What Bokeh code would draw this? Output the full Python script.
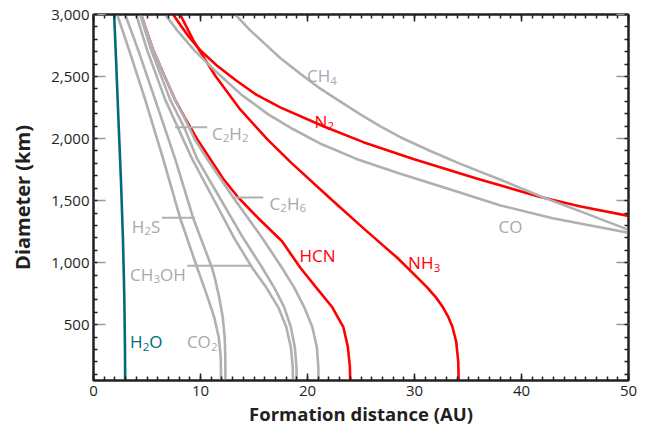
from bokeh.plotting import figure
from bokeh.models import Range1d, LinearAxis, FixedTicker, NumeralTickFormatter, Label, CustomJSTickFormatter
from bokeh.embed import file_html
from bokeh.resources import INLINE

# ---- data (formation distance in AU, diameter in km) ----
h2o_x = [2.96, 2.94, 2.88, 2.75, 2.56, 2.33, 2.11, 1.93]
h2o_y = [50, 321, 720, 1198, 1676, 2155, 2633, 3000]

co2_x = [11.92, 11.91, 11.89, 11.70, 11.28, 10.67, 10.02, 9.69, 8.10, 6.51, 4.83, 3.33, 2.21]
co2_y = [50, 146, 241, 401, 560, 720, 879, 959, 1358, 1836, 2314, 2713, 3000]

h2s_x = [12.33, 12.32, 12.26, 12.08, 11.75, 11.33, 11.07, 9.32, 7.63, 5.76, 4.18, 2.96]
h2s_y = [50, 241, 401, 560, 720, 879, 959, 1358, 1836, 2314, 2713, 3000]

ch3oh_x = [18.65, 18.62, 18.44, 18.02, 17.27, 16.15, 14.83, 13.15, 11.19, 9.22, 6.70, 5.01, 3.99]
ch3oh_y = [50, 162, 321, 481, 640, 799, 959, 1198, 1517, 1836, 2314, 2713, 3000]

c2h2_x = [18.99, 18.97, 18.81, 18.44, 17.83, 16.89, 15.77, 13.99, 11.84, 9.69, 8.47, 7.16, 5.39, 4.36]
c2h2_y = [50, 162, 321, 481, 640, 799, 959, 1198, 1517, 1836, 2091, 2314, 2713, 3000]

c2h6_x = [21.03, 21.01, 20.87, 20.45, 19.70, 18.76, 17.61, 15.77, 13.06, 10.62, 9.46, 8.48, 7.62, 6.79, 5.58, 4.45]
c2h6_y = [50, 162, 321, 481, 640, 799, 959, 1198, 1525, 1836, 1995, 2171, 2314, 2474, 2713, 3000]

hcn_x = [23.99, 23.96, 23.77, 23.35, 22.32, 20.82, 19.33, 17.60, 15.40, 13.53, 12.12, 10.91, 9.69, 8.52, 7.62, 6.79, 5.58, 4.45]
hcn_y = [50, 162, 321, 481, 640, 799, 959, 1174, 1358, 1525, 1676, 1836, 1995, 2171, 2314, 2474, 2713, 3000]

nh3_x = [34.13, 34.09, 33.90, 33.55, 33.17, 32.66, 32.00, 31.20, 30.27, 28.39, 25.21, 22.13, 18.39, 16.23, 13.71, 11.38, 9.88, 9.32, 8.10]
nh3_y = [50, 201, 361, 481, 560, 640, 720, 799, 879, 1039, 1278, 1517, 1812, 1995, 2235, 2506, 2713, 2793, 3000]

n2_x = [7.45, 8.15, 8.94, 9.97, 11.47, 13.24, 15.21, 17.45, 21.48, 25.22, 29.89, 35.88, 41.59, 45.52, 50.0]
n2_y = [3000, 2912, 2817, 2713, 2593, 2474, 2354, 2251, 2099, 1971, 1836, 1676, 1533, 1453, 1377]

co_x = [6.70, 7.82, 9.41, 11.47, 13.81, 16.33, 18.67, 21.29, 24.57, 28.68, 33.36, 38.04, 42.91, 50.0]
co_y = [3000, 2872, 2713, 2538, 2354, 2195, 2075, 1956, 1836, 1716, 1589, 1461, 1358, 1241]

ch4_x = [13.25, 14.65, 16.05, 17.45, 19.33, 21.20, 23.07, 24.94, 26.81, 28.68, 31.48, 34.29, 38.04, 42.06, 45.52, 50.0]
ch4_y = [3000, 2872, 2761, 2649, 2522, 2402, 2298, 2195, 2099, 2011, 1900, 1796, 1668, 1525, 1413, 1264]

# leader lines: (x start, x end, y)
leaders = [(7.63, 10.63, 2091), (12.94, 15.87, 1525), (6.39, 9.50, 1362), (8.76, 14.83, 975)]

X_TICKS = [0, 10, 20, 30, 40, 50]
Y_TICKS = [500, 1000, 1500, 2000, 2500, 3000]

GRAY = "#b0b0b0"
LGRAY = "#a7a9ac"
RED = "#ff0000"
TEAL = "#006b77"
INK = "#231f20"
FONT = "Open Sans"

p = figure(width=640, height=428, x_range=Range1d(0, 50), y_range=Range1d(50, 3000),
           output_backend="svg", toolbar_location=None,
           min_border_left=93, min_border_right=12, min_border_top=14, min_border_bottom=44)
p.xgrid.visible = False
p.ygrid.visible = False
p.outline_line_color = INK
p.outline_line_width = 2
p.background_fill_color = "white"
p.border_fill_color = "white"

def style_axis(ax, ticks, minor, label_size="15px"):
    ax.ticker = FixedTicker(ticks=ticks, minor_ticks=minor)
    ax.axis_line_color = INK
    ax.axis_line_width = 2
    ax.major_tick_out = 0
    ax.minor_tick_out = 0
    ax.minor_tick_in = 4
    ax.minor_tick_line_color = INK
    ax.minor_tick_line_width = 1.5
    ax.major_tick_line_width = 1.5
    ax.major_label_text_font = FONT
    ax.major_label_text_font_size = label_size
    ax.major_label_text_color = INK

x_minor = list(range(0, 51))
y_minor = list(range(100, 3001, 100))

style_axis(p.xaxis[0], X_TICKS, x_minor)
p.xaxis[0].major_tick_in = 7
p.xaxis[0].major_tick_line_color = INK
p.xaxis[0].major_label_standoff = 5
p.xaxis[0].axis_label = "Formation distance (AU)"
p.xaxis[0].axis_label_text_font = FONT
p.xaxis[0].axis_label_text_font_style = "bold"
p.xaxis[0].axis_label_text_font_size = "18.5px"
p.xaxis[0].axis_label_text_color = INK
p.xaxis[0].axis_label_standoff = 2

style_axis(p.yaxis[0], Y_TICKS, y_minor)
p.yaxis[0].formatter = NumeralTickFormatter(format="0,0")
p.yaxis[0].major_tick_in = 12
p.yaxis[0].major_tick_line_color = "#9a9a9a"
p.yaxis[0].major_label_standoff = 4
p.yaxis[0].axis_label = "Diameter (km)"
p.yaxis[0].axis_label_text_font = FONT
p.yaxis[0].axis_label_text_font_style = "bold"
p.yaxis[0].axis_label_text_font_size = "20px"
p.yaxis[0].axis_label_text_color = INK
p.yaxis[0].axis_label_standoff = 12

blank = CustomJSTickFormatter(code="return '';")
top = LinearAxis(formatter=blank)
style_axis(top, X_TICKS, x_minor)
top.major_tick_in = 7
top.major_tick_line_color = INK
top.major_label_standoff = 0
p.add_layout(top, "above")

right = LinearAxis(formatter=blank)
style_axis(right, Y_TICKS, y_minor)
right.major_tick_in = 12
right.major_tick_line_color = "#9a9a9a"
right.major_label_standoff = 0
p.add_layout(right, "right")

LW = 2.6
for xs, ys in [(hcn_x, hcn_y), (nh3_x, nh3_y), (n2_x, n2_y)]:
    p.line(xs, ys, line_color=RED, line_width=LW, line_join="round")
for xs, ys in [(co2_x, co2_y), (h2s_x, h2s_y), (ch3oh_x, ch3oh_y), (c2h2_x, c2h2_y),
               (c2h6_x, c2h6_y), (co_x, co_y), (ch4_x, ch4_y)]:
    p.line(xs, ys, line_color=GRAY, line_width=LW, line_join="round")
p.line(h2o_x, h2o_y, line_color=TEAL, line_width=LW, line_join="round")

for x0, x1, y in leaders:
    p.line([x0, x1], [y, y], line_color=GRAY, line_width=2)

# chemical labels: (formula, x, baseline y, colour); digits are subscripts
labels = [
    ("CH4", 19.95, 2506, LGRAY), ("N2", 20.66, 2139, RED), ("C2H2", 11.07, 2043, LGRAY),
    ("C2H6", 16.45, 1477, LGRAY), ("H2S", 3.58, 1294, LGRAY), ("CH3OH", 3.42, 907, LGRAY),
    ("HCN", 19.26, 1055, RED), ("NH3", 29.4, 999, RED), ("CO", 37.85, 1294, LGRAY),
    ("H2O", 3.42, 361, TEAL), ("CO2", 8.73, 361, LGRAY),
]
MAIN = 17
SUB = 11.5
W = {"C": 0.635, "H": 0.740, "O": 0.781, "N": 0.765, "S": 0.536}
for t, x, y, c in labels:
    off = 0.0
    i = 0
    while i < len(t):
        ch = t[i]
        if ch.isdigit():
            p.add_layout(Label(x=x, y=y, x_offset=off, y_offset=-5, text=ch, text_color=c,
                               text_font=FONT, text_font_size=f"{SUB}px",
                               text_baseline="alphabetic", text_align="left"))
            off += 0.572 * SUB
            i += 1
        else:
            j = i
            while j < len(t) and not t[j].isdigit():
                j += 1
            seg = t[i:j]
            p.add_layout(Label(x=x, y=y, x_offset=off, text=seg, text_color=c,
                               text_font=FONT, text_font_size=f"{MAIN}px",
                               text_baseline="alphabetic", text_align="left"))
            off += sum(W[k] for k in seg) * MAIN
            i = j

open("out.html", "w").write(file_html(p, INLINE))
